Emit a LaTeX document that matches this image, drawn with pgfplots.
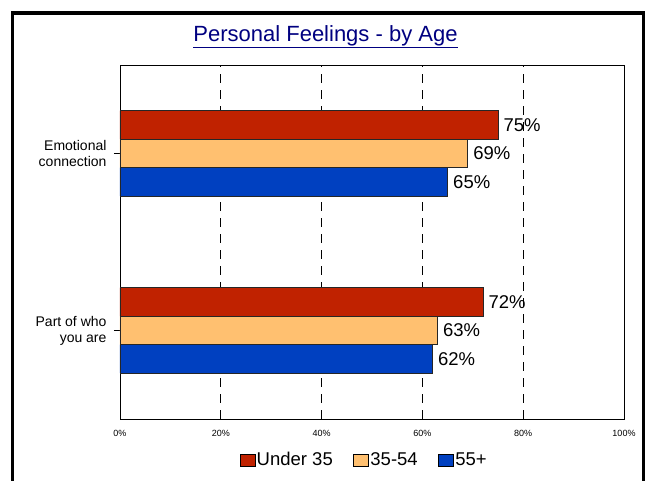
\documentclass[border=0pt]{standalone}
\usepackage{pgfplots}
\pgfplotsset{compat=1.18}
\usepackage{pgfplotstable}
\usepackage{fontspec}
\setmainfont{Liberation Sans}

\definecolor{redc}{RGB}{192,34,0}
\definecolor{orangec}{RGB}{255,192,112}
\definecolor{bluec}{RGB}{0,64,192}
\definecolor{navyc}{RGB}{0,0,128}

% cat 0 = Part of who you are, cat 1 = Emotional connection
\pgfplotstableread{
cat under mid old
0   72    63  62
1   75    69  65
}\data

\begin{document}
\begin{tikzpicture}[x=1pt,y=1pt]
\useasboundingbox (0,0) rectangle (646,481);
\draw[line width=3.5pt] (12.5,-20) -- (12.5,468) -- (643.5,468) -- (643.5,-20);
\node[font=\fontsize{22}{24}\selectfont, text=navyc] at (325.5,444) {\underline{Personal Feelings - by Age}};
\begin{axis}[
    at={(120pt,62pt)}, anchor=south west,
    width=504pt, height=354pt, scale only axis,
    xbar, bar width=28.5pt,
    xmin=0, xmax=100, ymin=-0.5, ymax=1.5,
    xtick={0,20,...,100},
    xticklabel={\pgfmathprintnumber{\tick}\%},
    xticklabel style={font=\fontsize{9}{10}\selectfont, yshift=-2pt},
    xtick style={draw=none},
    ytick={0,1},
    yticklabels={Part of who\\you are, Emotional\\connection},
    yticklabel style={font=\fontsize{14}{16}\selectfont, align=right, xshift=-4pt},
    ytick style={black, line width=0.6pt},
    tick align=outside, major tick length=6pt,
    xtick pos=bottom, ytick pos=left,
    /pgf/number format/assume math mode=true,
    axis line style={black, line width=0.8pt},
    xmajorgrids,
    major grid style={black, line width=0.7pt, dash pattern=on 9pt off 7pt},
    point meta=x,
    nodes near coords={\pgfmathprintnumber{\pgfplotspointmeta}\%},
    nodes near coords align={horizontal},
    every node near coord/.append style={font=\fontsize{18.5}{20}\selectfont, text=black, xshift=2pt},
    legend columns=-1,
    legend style={draw=none, fill=none, at={(0.484,-0.1158)}, anchor=center,
      font=\fontsize{18.5}{20}\selectfont,
      /tikz/every even column/.append style={column sep=19pt},
      nodes={inner sep=1.5pt}},
    legend image code/.code={\draw[#1, draw=black, line width=0.6pt] (0pt,-6pt) rectangle (15pt,6pt);},
]
\addplot[fill=redc, draw=black!85, line width=0.6pt, bar shift=28.5pt] table[x=under, y=cat] {\data};
\addplot[fill=orangec, draw=black!85, line width=0.6pt, bar shift=0pt] table[x=mid, y=cat] {\data};
\addplot[fill=bluec, draw=black!85, line width=0.6pt, bar shift=-28.5pt] table[x=old, y=cat] {\data};
\legend{Under 35, 35-54, 55+}
\end{axis}
\end{tikzpicture}
\end{document}
